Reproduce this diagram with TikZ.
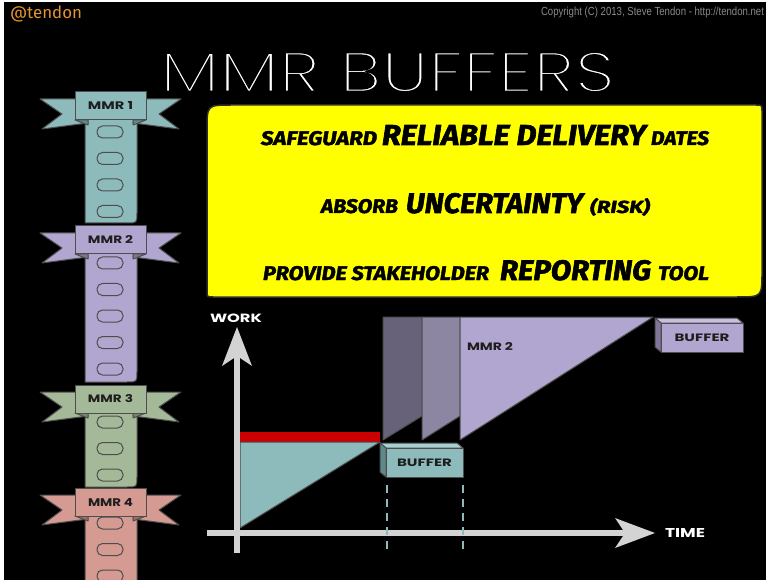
\documentclass[tikz,border=0pt]{standalone}
\usepackage{graphicx}
\usepackage{fontspec}
\setmainfont{Poppins}
\newfontfamily\titlefont{Poppins Light}
\newfontfamily\markerfont{Fira Sans}[BoldItalicFeatures={FakeBold=2}]
\newfontfamily\libsans{Liberation Sans}
\newfontfamily\firasans{Fira Sans}
\newcommand{\thinstroke}[1]{\special{pdf:literal direct q 2 Tr 0 0 0 RG 0.4 w}#1\special{pdf:literal direct Q}}
\definecolor{tealA}{HTML}{8DBBBB}
\definecolor{tealD}{HTML}{5E8A8A}
\definecolor{tealL}{HTML}{A9D0D0}
\definecolor{lavA}{HTML}{B1A6CF}
\definecolor{lavD}{HTML}{7F7699}
\definecolor{lavL}{HTML}{C8BFE0}
\definecolor{greenA}{HTML}{A4B998}
\definecolor{greenD}{HTML}{76896B}
\definecolor{salA}{HTML}{D59A91}
\definecolor{salD}{HTML}{A06D66}
\definecolor{slabA}{HTML}{67627A}
\definecolor{slabB}{HTML}{8D86A3}
\definecolor{edgegray}{HTML}{4D4D4D}
\definecolor{axisgray}{HTML}{D3D3D3}
\definecolor{labeltext}{HTML}{1E1E1E}
\definecolor{tendonorange}{HTML}{E39330}
\definecolor{copygray}{HTML}{8A8A8A}
\definecolor{barred}{HTML}{CC0000}
\definecolor{boxyellow}{HTML}{FFFF00}
\tikzset{
  edge/.style={draw=edgegray, line width=1pt, line join=round},
  labelbox/.style={draw=edgegray, line width=1pt, minimum width=71pt, minimum height=28pt, inner sep=0pt, text=labeltext},
  slot/.style={draw=edgegray, line width=1pt, rounded corners=5.5pt},
  axisline/.style={draw=axisgray, line width=6pt},
  arrowtip/.style={fill=axisgray},
  plain/.style={inner sep=0pt, outer sep=0pt},
  dashguide/.style={draw=tealA, line width=1.3pt, dash pattern=on 8pt off 6pt},
}
\begin{document}
\begin{tikzpicture}[x=1pt,y=-1pt]
\useasboundingbox (0,0) rectangle (766,580);
\fill[white] (0,0) rectangle (766,580);
\fill[black] (4,2) rectangle (766,580);

% header texts
\node[plain, anchor=west, text=tendonorange] (tendon) at (10,14) {\resizebox{72pt}{!}{\firasans @tendon}};
\node[plain, anchor=east, text=copygray] (copy) at (764,12) {\resizebox{223pt}{8.5pt}{\libsans Copyright (C) 2013, Steve Tendon - http://tendon.net}};
\node[plain, text=white] (title) at (387.5,72) {\resizebox{455pt}{40pt}{\thinstroke{\titlefont MMR BUFFERS}}};

% ribbons
\foreach \t/\fc/\dc/\lab/\sb/\st/\ns/\nm in {92/tealA/tealD/MMR 1/223/126/4/rA, 226/lavA/lavD/MMR 2/382/257/5/rB, 385/greenA/greenD/MMR 3/487/416/3/rC, 488/salA/salD/MMR 4/600/517/3/rD}{
  \filldraw[fill=\fc, edge] (85,\t+20) -- (85,\sb) -- (127,\sb) .. controls (137,\sb) .. (137,\sb-10) -- (137,\t+20) -- cycle;
  \foreach \k in {1,...,\ns}{
    \draw[slot, fill=\fc] (97,{\st+26.5*(\k-1)}) rectangle ++(26,12);
  }
  \filldraw[fill=\fc, edge] (40,\t+7) -- (82,\t+7) -- (88,\t+31) -- (42,\t+37) -- (62,\t+22) -- cycle;
  \filldraw[fill=\fc, edge] (181,\t+7) -- (139,\t+7) -- (133,\t+31) -- (179,\t+37) -- (159,\t+22) -- cycle;
  \filldraw[fill=\dc, edge] (75,\t+28) -- (88,\t+28) -- (88,\t+33) -- cycle;
  \filldraw[fill=\dc, edge] (146,\t+28) -- (133,\t+28) -- (133,\t+33) -- cycle;
  \node[labelbox, fill=\fc] (\nm) at (110.5,\t+14) {\resizebox{45pt}{8pt}{\bfseries \lab}};
}

% yellow box
\filldraw[fill=boxyellow, draw=edgegray!60!black, line width=1.5pt]
  (207,130) .. controls (207,105) .. (232,105) -- (756,105) .. controls (762,105) .. (762,111)
  -- (762,272) .. controls (762,297) .. (737,297) -- (213,297) .. controls (207,297) .. (207,291) -- cycle;
\node[plain, anchor=base west] (l1a) at (261,145) {\resizebox{116pt}{14pt}{\markerfont\bfseries\itshape SAFEGUARD}};
\node[plain, anchor=base west] (l1b) at (382,145) {\resizebox{264pt}{20pt}{\markerfont\bfseries\itshape RELIABLE DELIVERY}};
\node[plain, anchor=base west] (l1c) at (651,145) {\resizebox{58pt}{14pt}{\markerfont\bfseries\itshape DATES}};
\node[plain, anchor=base west] (l2a) at (321,213) {\resizebox{77pt}{14pt}{\markerfont\bfseries\itshape ABSORB}};
\node[plain, anchor=base west] (l2b) at (406,213) {\resizebox{177pt}{20pt}{\markerfont\bfseries\itshape UNCERTAINTY}};
\node[plain, anchor=base west] (l2c) at (590,213) {\resizebox{60pt}{15pt}{\markerfont\bfseries\itshape (RISK)}};
\node[plain, anchor=base west] (l3a) at (263,280) {\resizebox{226pt}{14pt}{\markerfont\bfseries\itshape PROVIDE STAKEHOLDER}};
\node[plain, anchor=base west] (l3b) at (500,280) {\resizebox{151pt}{20pt}{\markerfont\bfseries\itshape REPORTING}};
\node[plain, anchor=base west] (l3c) at (658,280) {\resizebox{51pt}{14pt}{\markerfont\bfseries\itshape TOOL}};

% chart shapes
\fill[barred] (240,432) rectangle (380,442);
\filldraw[fill=tealA, edge] (240,528) -- (240,442) -- (380,442) -- cycle;
\filldraw[fill=slabA, edge] (383,317) -- (422,317) -- (422,416) -- (383,440) -- cycle;
\filldraw[fill=slabB, edge] (422,317) -- (460,317) -- (460,416) -- (422,440) -- cycle;
\filldraw[fill=lavA, edge] (460,317) -- (653,317) -- (460,440) -- cycle;
\node[plain, anchor=west, text=labeltext] (mmrtwo) at (467,346) {\resizebox{46pt}{8pt}{\bfseries MMR 2}};

% buffer boxes
\filldraw[fill=tealL, edge] (380,443) -- (457,443) -- (463,448) -- (386,448) -- cycle;
\filldraw[fill=tealD, edge] (380,443) -- (386,448) -- (386,477) -- (380,472) -- cycle;
\filldraw[fill=tealA, edge] (386,448) rectangle (463,477);
\node[plain, text=labeltext] (bufA) at (424.5,462.5) {\resizebox{55pt}{7.5pt}{\bfseries BUFFER}};
\filldraw[fill=lavL, edge] (655,318) -- (737,318) -- (743,323) -- (661,323) -- cycle;
\filldraw[fill=lavD, edge] (655,318) -- (661,323) -- (661,352) -- (655,347) -- cycle;
\filldraw[fill=lavA, edge] (661,323) rectangle (743,352);
\node[plain, text=labeltext] (bufB) at (702,337.5) {\resizebox{55pt}{7.5pt}{\bfseries BUFFER}};

% axes
\coordinate (ybase) at (237,553);
\coordinate (yend) at (237,352);
\coordinate (xbase) at (207,533);
\coordinate (xend) at (628,533);
\draw[axisline] (ybase) -- (yend);
\fill[arrowtip] (237,327) -- (252,366) -- (237,356) -- (222,366) -- cycle;
\draw[axisline] (xbase) -- (xend);
\fill[arrowtip] (655,533) -- (615,548) -- (625,533) -- (615,518) -- cycle;
\node[plain, anchor=west, text=white] (work) at (210,318) {\resizebox{52pt}{8.5pt}{\bfseries WORK}};
\node[plain, anchor=west, text=white] (time) at (665,533) {\resizebox{40pt}{9pt}{\bfseries TIME}};

% dashed guides
\coordinate (gA1) at (387,485); \coordinate (gA2) at (387,549);
\coordinate (gB1) at (463,485); \coordinate (gB2) at (463,549);
\draw[dashguide] (gA1) -- (gA2);
\draw[dashguide] (gB1) -- (gB2);
\end{tikzpicture}
\end{document}
